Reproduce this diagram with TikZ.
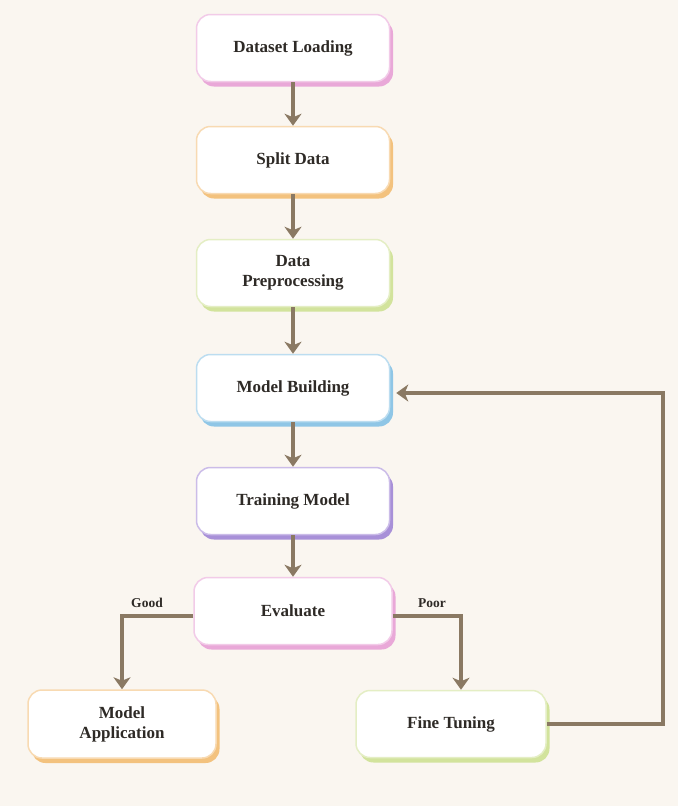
\documentclass[tikz,border=0pt]{standalone}
\usepackage{fontspec}
\setmainfont{Liberation Serif}
\usetikzlibrary{arrows.meta,shadows}
\definecolor{bg}{HTML}{FAF6F0}
\definecolor{arrowc}{HTML}{8A7963}
\definecolor{cpink}{HTML}{E9A8D8}
\definecolor{corange}{HTML}{F3C27E}
\definecolor{cgreen}{HTML}{D2E39C}
\definecolor{cblue}{HTML}{8FC6E6}
\definecolor{cpurple}{HTML}{A890D8}
\definecolor{textc}{HTML}{2E2A26}
\begin{document}
\begin{tikzpicture}[x=1pt,y=-1pt,
  box/.style={draw=#1!60, line width=1.5pt, fill=white, rounded corners=14pt,
    minimum width=193pt, minimum height=67pt, align=center,
    font=\fontsize{17}{20}\selectfont\bfseries, text=textc,
    drop shadow={shadow xshift=3.5pt, shadow yshift=-5pt, fill=#1, opacity=1}},
  arr/.style={draw=arrowc, line width=3.6pt, -{Stealth[length=12pt,width=17pt,inset=3.5pt]}},
  lbl/.style={font=\fontsize{13.5}{16}\selectfont\bfseries, text=textc}]
\fill[bg] (0,0) rectangle (678,806);
\node[box=cpink] (ds) at (293,48) {Dataset Loading};
\node[box=corange] (sd) at (293,160) {Split Data};
\node[box=cgreen] (dp) at (293,273) {Data\\Preprocessing};
\node[box=cblue] (mb) at (293,388) {Model Building};
\node[box=cpurple] (tm) at (293,501) {Training Model};
\node[box=cpink, minimum width=198pt] (ev) at (293,611) {Evaluate};
\node[box=corange, minimum width=188pt, minimum height=68pt] (ma) at (122,724) {Model\\Application};
\node[box=cgreen, minimum width=190pt] (ft) at (451,724) {Fine Tuning};
\node[lbl] (good) at (147,603) {Good};
\node[lbl] (poor) at (432,603) {Poor};
\coordinate (evl) at ([yshift=-5pt]ev.west);
\coordinate (evr) at ([yshift=-5pt]ev.east);
\coordinate (ftin) at ([xshift=10pt]ft.north);
\coordinate (corner) at (663,724);
\coordinate (mbin) at ([xshift=6pt,yshift=-5pt]mb.east);
\draw[arr] (ds.south) -- (sd.north);
\draw[arr] (sd.south) -- (dp.north);
\draw[arr] (dp.south) -- (mb.north);
\draw[arr] (mb.south) -- (tm.north);
\draw[arr] (tm.south) -- (ev.north);
\draw[arr] (evl) -| (ma.north);
\draw[arr] (evr) -| (ftin);
\draw[arr] (ft.east) -- (corner) |- (mbin);
\end{tikzpicture}
\end{document}
